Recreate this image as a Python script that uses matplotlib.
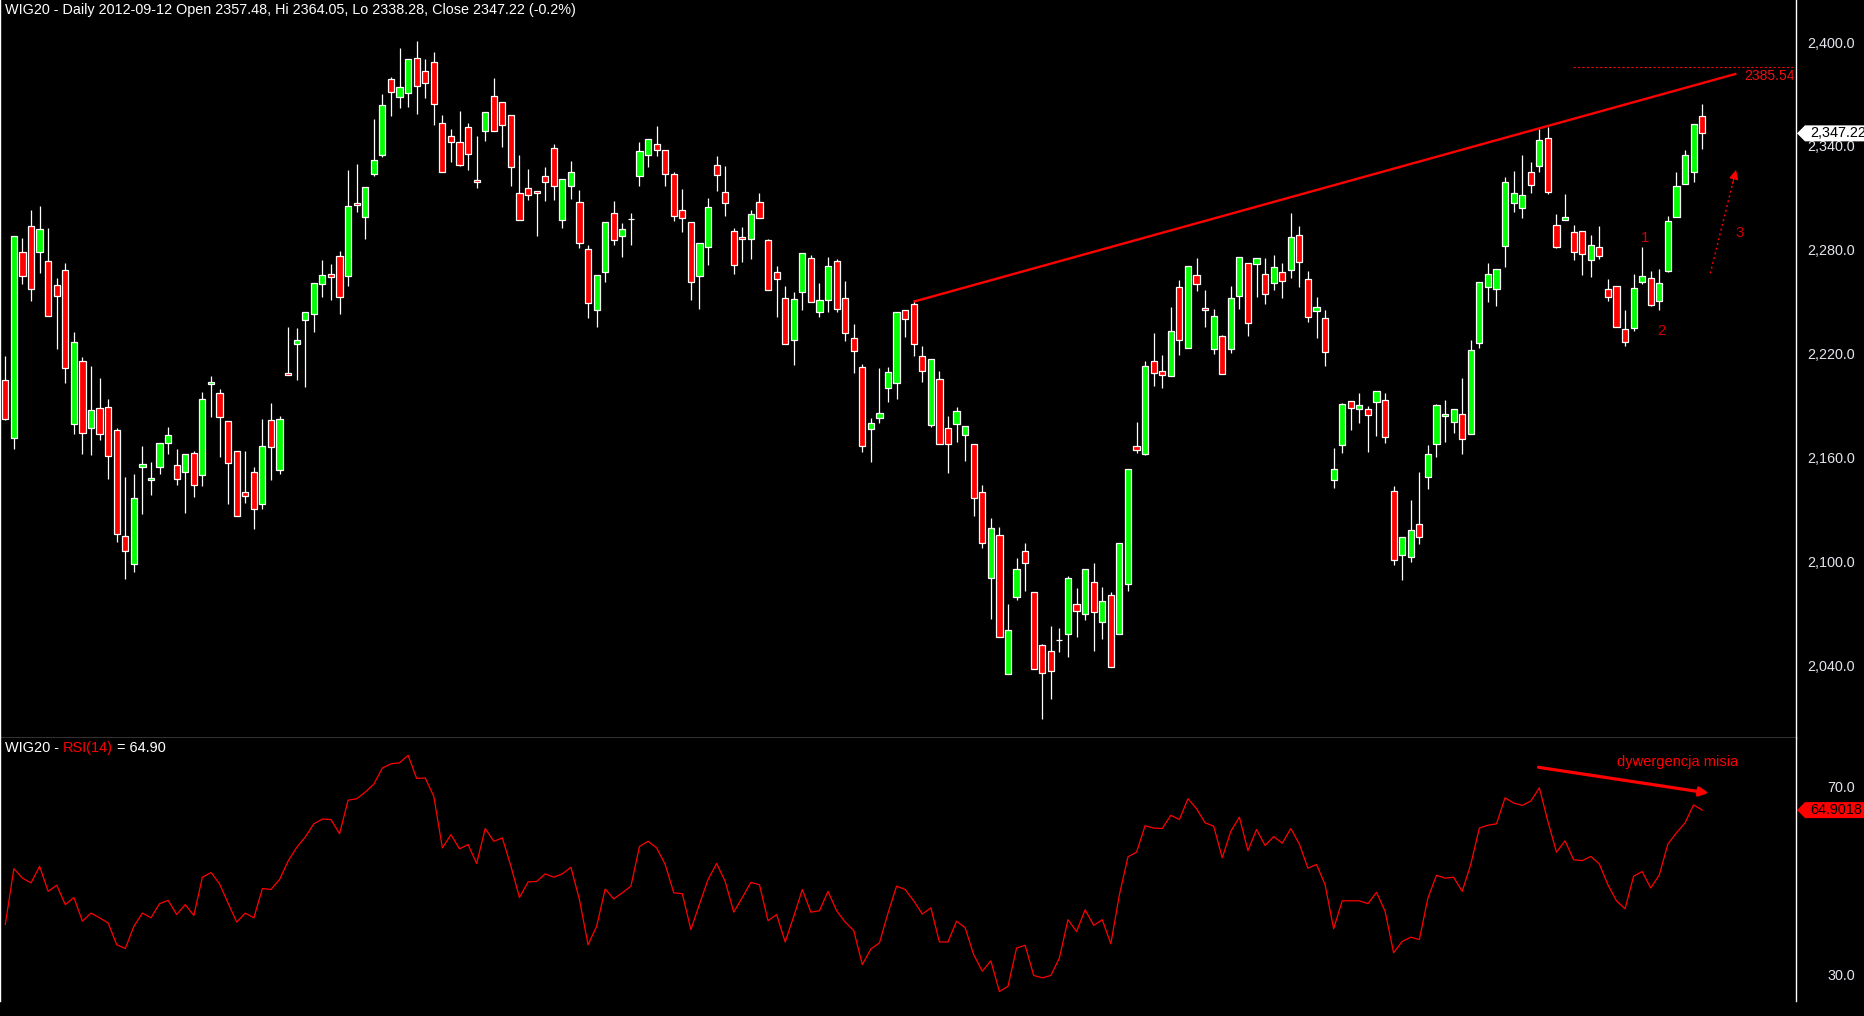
import matplotlib
matplotlib.use("Agg")
import matplotlib.pyplot as plt
from matplotlib import font_manager
from matplotlib.patches import Polygon
from matplotlib.transforms import IdentityTransform, blended_transform_factory
import numpy as np

# ---------------- data ----------------
opens = [2204.6, 2171.1, 2278.5, 2293.5, 2278.5, 2273.3, 2259.4, 2268.1, 2179.1, 2215.5,
         2176.8, 2188.4, 2189.0, 2175.7, 2114.4, 2098.2, 2154.3, 2146.8, 2154.3, 2168.2,
         2155.4, 2151.4, 2162.4, 2149.7, 2202.2, 2197.0, 2180.9, 2163.5, 2139.8, 2151.4,
         2133.0, 2181.4, 2152.6, 2208.6, 2225.3, 2239.2, 2242.7, 2260.0, 2265.8, 2276.2,
         2265.0, 2306.8, 2298.7, 2323.6, 2334.5, 2378.4, 2368.0, 2370.3, 2390.6, 2383.0,
         2388.2, 2353.0, 2345.5, 2342.0, 2350.7, 2320.1, 2348.4, 2368.6, 2365.1, 2357.6,
         2312.6, 2315.5, 2313.7, 2322.4, 2338.6, 2297.0, 2316.6, 2307.4, 2280.2, 2245.0,
         2267.3, 2301.0, 2287.7, 2297.9, 2322.4, 2334.5, 2340.9, 2337.4, 2323.5, 2302.8,
         2295.8, 2264.6, 2281.4, 2328.7, 2313.1, 2290.6, 2287.2, 2286.0, 2307.4, 2285.4,
         2266.9, 2251.9, 2227.7, 2255.4, 2275.0, 2243.8, 2250.8, 2273.3, 2251.9, 2228.8,
         2212.0, 2176.2, 2182.6, 2199.9, 2202.8, 2245.0, 2248.4, 2218.4, 2178.5, 2205.1,
         2176.8, 2179.1, 2172.8, 2167.6, 2139.8, 2090.2, 2115.0, 2034.7, 2079.2, 2105.8,
         2082.1, 2051.5, 2048.0, 2054.5, 2057.8, 2075.1, 2069.4, 2087.9, 2064.7, 2080.3,
         2057.8, 2086.7, 2166.4, 2161.8, 2215.5, 2209.7, 2206.9, 2258.3, 2223.0, 2265.2,
         2246.1, 2222.5, 2230.0, 2222.5, 2253.1, 2272.1, 2271.6, 2265.8, 2260.6, 2266.9,
         2268.1, 2288.3, 2262.9, 2244.4, 2240.4, 2146.8, 2167.0, 2192.4, 2187.8, 2187.8,
         2191.8, 2193.0, 2140.4, 2103.5, 2102.3, 2121.4, 2148.5, 2167.6, 2183.8, 2180.7,
         2184.9, 2173.4, 2225.9, 2258.3, 2257.1, 2281.9, 2306.8, 2303.9, 2324.7, 2328.2,
         2344.4, 2294.1, 2297.0, 2290.0, 2290.6, 2273.9, 2281.4, 2257.1, 2258.8, 2234.0,
         2234.6, 2261.2, 2263.4, 2250.2, 2267.5, 2298.7, 2317.8, 2324.7, 2357.48]
highs = [2218.6, 2287.8, 2286.6, 2303.0, 2305.3, 2292.6, 2263.7, 2272.3, 2232.5, 2218.0,
         2212.8, 2205.9, 2193.8, 2176.8, 2148.7, 2150.4, 2166.6, 2157.4, 2168.2, 2177.6,
         2164.9, 2161.8, 2163.7, 2197.8, 2207.0, 2199.5, 2180.9, 2163.5, 2163.7, 2154.5,
         2182.2, 2191.4, 2183.9, 2235.4, 2234.8, 2243.8, 2260.6, 2274.1, 2271.7, 2279.3,
         2326.1, 2329.5, 2316.0, 2355.5, 2370.0, 2379.8, 2396.5, 2390.0, 2400.6, 2390.2,
         2394.2, 2357.8, 2349.7, 2360.1, 2353.0, 2345.7, 2359.4, 2379.0, 2365.1, 2357.6,
         2334.5, 2326.4, 2313.7, 2327.6, 2340.9, 2320.7, 2331.2, 2314.3, 2282.5, 2265.2,
         2295.8, 2307.9, 2295.2, 2301.0, 2342.0, 2343.8, 2351.3, 2337.4, 2324.7, 2314.9,
         2295.8, 2283.7, 2309.7, 2333.9, 2328.2, 2292.3, 2293.1, 2302.8, 2312.8, 2286.0,
         2270.4, 2258.8, 2255.4, 2277.9, 2276.8, 2260.6, 2275.6, 2274.4, 2261.7, 2236.9,
         2213.8, 2182.6, 2211.5, 2212.0, 2243.8, 2245.0, 2250.8, 2224.2, 2216.7, 2209.9,
         2183.7, 2189.1, 2178.0, 2167.6, 2143.9, 2124.8, 2119.6, 2075.1, 2101.7, 2110.4,
         2082.1, 2052.0, 2062.4, 2061.3, 2091.3, 2084.4, 2095.4, 2098.8, 2085.0, 2082.1,
         2110.4, 2153.1, 2180.3, 2215.5, 2231.7, 2219.0, 2246.7, 2262.3, 2270.4, 2275.0,
         2256.5, 2245.6, 2230.5, 2258.8, 2275.6, 2272.1, 2275.0, 2275.0, 2276.8, 2272.1,
         2301.0, 2293.7, 2267.5, 2252.5, 2245.0, 2165.3, 2191.3, 2192.4, 2197.0, 2189.5,
         2198.2, 2197.0, 2143.3, 2113.8, 2135.2, 2151.4, 2167.0, 2190.7, 2193.0, 2187.8,
         2205.9, 2227.7, 2261.2, 2272.3, 2268.7, 2321.8, 2325.5, 2334.6, 2330.5, 2349.5,
         2350.7, 2300.4, 2312.0, 2294.1, 2290.6, 2288.3, 2293.5, 2262.9, 2258.8, 2245.0,
         2265.8, 2281.4, 2267.5, 2268.7, 2299.3, 2324.7, 2337.4, 2352.4, 2364.05]
lows = [2181.6, 2164.7, 2260.4, 2250.6, 2266.8, 2241.5, 2222.8, 2203.2, 2173.7, 2162.2,
        2161.6, 2170.3, 2147.7, 2111.4, 2090.0, 2094.0, 2127.5, 2138.5, 2150.6, 2162.2,
        2144.3, 2128.1, 2137.3, 2143.7, 2183.6, 2160.4, 2133.3, 2126.0, 2133.9, 2118.8,
        2130.4, 2147.2, 2150.6, 2207.4, 2204.9, 2200.9, 2232.7, 2252.9, 2251.1, 2243.1,
        2259.2, 2302.0, 2286.4, 2322.4, 2333.4, 2357.4, 2362.1, 2362.6, 2358.6, 2367.8,
        2352.2, 2324.7, 2330.9, 2328.2, 2326.2, 2315.9, 2343.0, 2348.4, 2339.5, 2317.0,
        2297.0, 2308.9, 2288.1, 2308.3, 2308.9, 2292.7, 2309.5, 2281.2, 2240.7, 2235.6,
        2261.5, 2282.9, 2276.0, 2282.9, 2317.0, 2328.0, 2333.9, 2317.0, 2296.8, 2290.4,
        2251.1, 2245.9, 2271.4, 2314.1, 2299.7, 2266.2, 2273.1, 2274.8, 2298.1, 2256.5,
        2241.3, 2225.3, 2213.2, 2245.0, 2249.6, 2241.3, 2243.8, 2243.8, 2227.1, 2208.6,
        2162.9, 2157.1, 2180.1, 2192.2, 2194.0, 2229.8, 2218.8, 2203.8, 2177.4, 2167.6,
        2151.2, 2169.1, 2158.1, 2126.4, 2107.9, 2066.5, 2056.1, 2034.7, 2077.5, 2082.7,
        2037.6, 2009.1, 2020.3, 2047.4, 2044.5, 2056.1, 2065.9, 2048.0, 2054.9, 2038.7,
        2057.8, 2082.7, 2162.4, 2161.2, 2201.5, 2200.3, 2206.9, 2219.0, 2223.0, 2255.9,
        2235.2, 2219.6, 2208.0, 2220.1, 2245.6, 2230.0, 2252.5, 2248.4, 2256.5, 2251.9,
        2263.9, 2258.3, 2238.0, 2228.8, 2212.6, 2142.1, 2162.4, 2175.7, 2179.7, 2163.0,
        2172.2, 2168.1, 2097.7, 2089.0, 2099.4, 2109.8, 2141.6, 2160.1, 2168.7, 2174.3,
        2162.2, 2173.4, 2223.0, 2250.0, 2247.7, 2270.2, 2301.6, 2298.1, 2312.6, 2324.7,
        2312.0, 2280.8, 2297.0, 2273.9, 2265.2, 2264.0, 2274.5, 2250.2, 2235.1, 2224.2,
        2232.8, 2260.0, 2247.3, 2245.0, 2266.9, 2298.7, 2317.8, 2318.9, 2338.28]
closes = [2182.0, 2287.8, 2264.6, 2257.1, 2291.8, 2241.5, 2253.1, 2211.5, 2226.5, 2173.9,
          2187.2, 2173.3, 2160.6, 2115.6, 2105.8, 2136.4, 2156.0, 2147.9, 2168.2, 2172.8,
          2147.4, 2161.8, 2143.9, 2193.6, 2203.4, 2183.2, 2156.6, 2126.0, 2137.5, 2130.0,
          2166.4, 2165.8, 2182.0, 2207.4, 2227.6, 2243.8, 2260.6, 2265.2, 2264.0, 2252.5,
          2305.1, 2305.6, 2316.0, 2331.6, 2363.4, 2370.9, 2373.8, 2390.0, 2374.4, 2376.1,
          2364.0, 2324.7, 2342.0, 2328.7, 2335.1, 2318.9, 2359.4, 2348.4, 2351.9, 2327.6,
          2297.0, 2311.4, 2312.6, 2318.9, 2316.6, 2320.7, 2324.7, 2283.7, 2249.0, 2265.2,
          2295.8, 2285.4, 2291.8, 2297.9, 2336.8, 2343.8, 2337.4, 2323.5, 2299.3, 2298.1,
          2261.2, 2283.7, 2304.5, 2323.0, 2306.8, 2271.0, 2286.0, 2300.4, 2298.1, 2256.5,
          2262.9, 2225.3, 2251.3, 2277.9, 2249.6, 2250.8, 2270.4, 2245.6, 2231.7, 2221.3,
          2166.4, 2179.7, 2185.5, 2209.2, 2243.8, 2239.8, 2225.3, 2209.7, 2216.7, 2167.6,
          2167.6, 2186.6, 2178.0, 2136.4, 2110.4, 2119.0, 2056.1, 2060.1, 2095.4, 2098.8,
          2037.6, 2035.3, 2036.4, 2054.5, 2090.2, 2071.1, 2095.4, 2070.5, 2076.9, 2038.7,
          2110.4, 2153.1, 2164.1, 2212.6, 2208.6, 2207.4, 2232.9, 2227.6, 2270.4, 2260.0,
          2245.0, 2241.5, 2208.0, 2251.9, 2275.6, 2237.5, 2275.0, 2254.2, 2269.8, 2261.7,
          2287.2, 2272.7, 2240.9, 2246.7, 2220.7, 2153.1, 2190.7, 2188.4, 2190.1, 2184.3,
          2198.2, 2171.6, 2100.6, 2113.8, 2117.9, 2113.8, 2161.8, 2190.1, 2184.9, 2187.8,
          2170.5, 2221.9, 2261.2, 2265.8, 2268.7, 2318.9, 2312.6, 2311.4, 2317.2, 2343.2,
          2313.2, 2281.4, 2298.7, 2278.5, 2277.3, 2282.5, 2276.2, 2252.5, 2235.1, 2226.5,
          2257.7, 2264.6, 2247.9, 2260.6, 2296.4, 2316.6, 2334.6, 2352.4, 2347.22]
rsi = [40.7, 52.5, 50.5, 49.5, 53.0, 47.7, 49.0, 44.9, 46.4, 41.4,
       43.1, 42.1, 41.0, 36.4, 35.6, 40.3, 43.1, 42.1, 45.1, 45.8,
       42.8, 44.9, 42.6, 50.7, 51.7, 49.3, 45.2, 41.2, 43.1, 42.1,
       48.3, 48.1, 50.2, 54.1, 57.0, 59.2, 62.0, 63.0, 62.9, 59.9,
       67.0, 67.3, 68.7, 70.4, 73.8, 74.7, 74.9, 76.5, 71.6, 71.7,
       67.8, 56.9, 59.7, 56.7, 57.6, 53.6, 61.0, 58.3, 59.0, 53.0,
       46.4, 49.7, 49.8, 51.4, 50.7, 51.4, 52.8, 45.9, 36.4, 40.3,
       48.2, 46.1, 47.4, 48.8, 57.2, 58.3, 56.9, 53.4, 47.4, 47.2,
       39.6, 45.0, 50.2, 53.6, 49.8, 43.3, 46.4, 49.6, 49.1, 41.5,
       42.8, 37.0, 42.4, 48.1, 43.3, 43.6, 47.7, 43.6, 41.2, 39.4,
       32.2, 35.5, 36.8, 43.1, 48.8, 48.1, 45.7, 42.9, 44.2, 37.0,
       37.0, 41.4, 40.0, 34.3, 30.8, 33.0, 26.5, 27.6, 35.7, 36.3,
       29.9, 29.4, 29.9, 33.6, 41.7, 39.2, 43.8, 40.5, 41.7, 36.6,
       47.0, 55.0, 56.0, 61.6, 61.1, 61.0, 63.8, 62.9, 67.3, 65.2,
       62.2, 61.5, 54.8, 60.4, 63.4, 56.3, 60.8, 57.4, 59.3, 57.9,
       61.0, 57.7, 52.6, 53.4, 49.1, 39.8, 45.7, 45.7, 45.7, 45.1,
       47.5, 43.5, 34.7, 37.1, 38.0, 37.5, 46.3, 51.1, 50.5, 50.7,
       47.7, 53.4, 61.1, 61.7, 62.0, 67.5, 66.4, 65.9, 66.8, 69.6,
       62.5, 56.0, 58.4, 54.4, 54.2, 55.1, 53.5, 49.1, 45.7, 44.0,
       50.9, 51.9, 48.4, 51.2, 57.7, 60.1, 62.2, 66.0, 64.9]
price_ticks = [2040, 2100, 2160, 2220, 2280, 2340, 2400]
rsi_ticks = [30, 70]
header_text = "WIG20 - Daily 2012-09-12 Open 2357.48, Hi 2364.05, Lo 2338.28, Close 2347.22 (-0.2%)"
rsi_parts = ["WIG20 - ", "RSI(14)", " = 64.90"]
rsi_last_label = "64.9018"
trend_x = [106, 202]
trend_y = [2250.0, 2381.7]
level_value = 2385.54
wave_labels = ["1", "2", "3"]
wave_x = [191.4, 193.3, 202.4]
wave_y = [2286.6, 2233.2, 2289.8]
arrow3_x = [198.95, 201.95]
arrow3_y = [2266.4, 2326.1]
div_x = [178.9, 198.76]
div_y = [73.96, 68.5]
div_text = "dywergencja misia"

# ---------------- layout ----------------
W, H = 1865, 1016
fig = plt.figure(figsize=(W / 100, H / 100), dpi=100, facecolor="black")


def fx(x):
    return x / W


def fy(y):
    return 1 - y / H


def available(name):
    try:
        font_manager.findfont(font_manager.FontProperties(family=name), fallback_to_default=False)
        return True
    except Exception:
        return False


FONT = "Liberation Sans Narrow" if available("Liberation Sans Narrow") else "Liberation Sans"
plt.rcParams["font.family"] = [FONT, "DejaVu Sans"]

AX_RIGHT = 1796
SEP_Y = 737.5
BOT_Y = 1001
ax = fig.add_axes([0, fy(SEP_Y), fx(AX_RIGHT), SEP_Y / H])
ax2 = fig.add_axes([0, fy(BOT_Y), fx(AX_RIGHT), (BOT_Y - SEP_Y) / H])

for a in (ax, ax2):
    a.set_facecolor("black")
    a.set_xlim(-5.3 / 8.57, (AX_RIGHT - 5.3) / 8.57)
    a.set_xticks([])
    for s in a.spines.values():
        s.set_color("white")
        s.set_linewidth(1.0)
ax.spines["top"].set_visible(False)
ax2.spines["top"].set_visible(False)
ax2.spines["bottom"].set_visible(False)

ax.set_ylim(2400 - (SEP_Y - 42) / 1.731, 2400 + 42 / 1.731)
ax2.set_ylim(70 - (BOT_Y - 786) / 4.725, 70 + (786 - SEP_Y) / 4.725)

# ---------------- candles ----------------
o = np.array(opens)
h = np.array(highs)
l = np.array(lows)
c = np.array(closes)
x = np.arange(len(o))
diff = c - o
colors = np.where(np.abs(diff) < 0.3, "white", np.where(diff >= 0, "#00ff00", "#ff0000"))
bottoms = np.minimum(o, c)
heights = np.maximum(np.abs(diff), 0.01)
ax.vlines(x, l, h, color="white", linewidth=0.9, zorder=2)
ax.bar(x, heights, bottom=bottoms, width=0.72, color=colors, edgecolor="white",
       linewidth=0.9, zorder=3)

# ---------------- annotations on price ----------------
RED = "#ff0000"
ax.plot(trend_x, trend_y, color=RED, linewidth=1.7, zorder=4, solid_capstyle="butt")
ax.hlines(level_value, 182.9, 209, color=RED, linewidth=0.8, linestyles=(0, (2.0, 2.0)), zorder=4)
tr_level = blended_transform_factory(ax.transAxes, ax.transData)
lvl_txt = ax.text(0.9995, 2380.4, f"{level_value:.2f}", transform=tr_level, ha="right",
                  va="center", color="#ee1111", fontsize=10, zorder=5)

for t, xx, yy in zip(wave_labels, wave_x, wave_y):
    ax.text(xx, yy, t, color="#d00000", fontsize=11, ha="center", va="center", zorder=5)

# dotted arrow (3)
ax.plot([arrow3_x[0], arrow3_x[1] - 0.35], [arrow3_y[0], arrow3_y[1] - 7.0], color=RED,
        linewidth=1.1, linestyle=(0, (1.2, 2.0)), zorder=4)
ax.annotate("", xy=(arrow3_x[1], arrow3_y[1]), xytext=(arrow3_x[1] - 0.4, arrow3_y[1] - 8.0),
            arrowprops=dict(arrowstyle="-|>", color=RED, lw=0.8, mutation_scale=14,
                            shrinkA=0, shrinkB=0), zorder=5)

# ---------------- RSI ----------------
ax2.plot(x, rsi, color=RED, linewidth=0.9, zorder=3)
ax2.annotate("", xy=(div_x[1], div_y[1]), xytext=(div_x[0], div_y[0]),
             arrowprops=dict(arrowstyle="-|>", color=RED, lw=2.3, mutation_scale=13,
                             shrinkA=0, shrinkB=0), zorder=4)
div_t = ax2.text(195.1, 75.1, div_text, color=RED, fontsize=10, ha="center", va="center")

# ---------------- axes tick labels ----------------
LABEL_COL = "#e4e4ec"
ax.yaxis.tick_right()
ax.set_yticks(price_ticks)
ax.set_yticklabels([f"{v:,.1f}" for v in price_ticks])
ax2.yaxis.tick_right()
ax2.set_yticks(rsi_ticks)
ax2.set_yticklabels([f"{v:.1f}" for v in rsi_ticks])
PAD_PX = 1855 - AX_RIGHT
for a in (ax, ax2):
    a.tick_params(axis="y", length=0, pad=PAD_PX * 0.72, labelcolor=LABEL_COL, labelsize=10)
    for lbl in a.get_yticklabels():
        lbl.set_horizontalalignment("right")

# ---------------- texts at top ----------------
hdr = fig.text(fx(5), fy(10), header_text, color="white", fontsize=10, va="center", ha="left")

renderer = fig.canvas.get_renderer()


def fit(t, target):
    w = t.get_window_extent(renderer=renderer).width
    if w > 0:
        t.set_fontsize(t.get_fontsize() * target / w)


fit(hdr, 574)
fit(div_t, 121)
fit(lvl_txt, 51)

# measure axis label size
probe = fig.text(0, 0, "2,400.0", fontsize=10)
pw = probe.get_window_extent(renderer=renderer).width
probe.remove()
lab_size = 10 * 48 / pw
for a in (ax, ax2):
    a.tick_params(axis="y", labelsize=lab_size)

# RSI header in three colours
probe = fig.text(0, 0, "".join(rsi_parts), fontsize=10)
pw = probe.get_window_extent(renderer=renderer).width
probe.remove()
rsz = 10 * 161 / pw
cur = 5.0
for part, col in zip(rsi_parts, ["white", RED, "white"]):
    t = fig.text(fx(cur), fy(748), part, color=col, fontsize=rsz, va="center", ha="left")
    cur += t.get_window_extent(renderer=renderer).width

# ---------------- right-axis value markers ----------------
def marker(axis, value, label, face, txtcol):
    ypix = axis.transData.transform((0, value))[1]
    xa = AX_RIGHT + 1
    pts = [[xa, ypix], [xa + 8, ypix + 8], [W, ypix + 8], [W, ypix - 8], [xa + 8, ypix - 8]]
    fig.add_artist(Polygon(pts, closed=True, facecolor=face, edgecolor="none",
                           transform=IdentityTransform(), zorder=10))
    fig.text(fx(1810), ypix / H, label, color=txtcol, fontsize=lab_size, va="center",
             ha="left", zorder=11)


marker(ax, closes[-1], f"{closes[-1]:,.2f}", "white", "black")
marker(ax2, rsi[-1], rsi_last_label, RED, "black")

fig.savefig("out.png", dpi=100, facecolor="black")
